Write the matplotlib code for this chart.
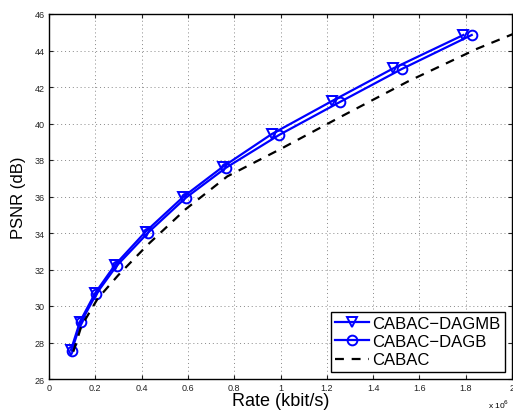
import matplotlib
matplotlib.use('Agg')
import matplotlib.pyplot as plt

plt.rcParams['font.family'] = ['Liberation Sans', 'DejaVu Sans']

# rates in units of 1e6 kbit/s
rate_dagmb = [0.095, 0.134, 0.200, 0.285, 0.418, 0.580, 0.750, 0.962, 1.221, 1.487, 1.790]
psnr_dagmb = [27.60, 29.15, 30.72, 32.25, 34.08, 35.98, 37.62, 39.42, 41.22, 43.02, 44.85]

rate_dagb = [0.098, 0.138, 0.205, 0.292, 0.428, 0.590, 0.765, 0.995, 1.257, 1.523, 1.826]
psnr_dagb = [27.55, 29.10, 30.68, 32.20, 34.02, 35.92, 37.58, 39.38, 41.18, 42.98, 44.85]

rate_cabac = [0.105, 0.14, 0.21, 0.30, 0.43, 0.59, 0.77, 1.0, 1.25, 1.55, 1.85, 2.1]
psnr_cabac = [27.5, 28.9, 30.4, 31.7, 33.4, 35.3, 37.1, 38.6, 40.3, 42.3, 44.1, 45.4]

xticks = [0, 0.2, 0.4, 0.6, 0.8, 1.0, 1.2, 1.4, 1.6, 1.8, 2.0]
xtick_labels = ['0', '0.2', '0.4', '0.6', '0.8', '1', '1.2', '1.4', '1.6', '1.8', '2']
yticks = [26, 28, 30, 32, 34, 36, 38, 40, 42, 44, 46]

fig = plt.figure(figsize=(5.13, 4.14), dpi=100)
ax = fig.add_axes([49 / 513, 1 - 380 / 414, 463 / 513, 365 / 414])

ax.plot(rate_dagmb, psnr_dagmb, color='#0000ff', lw=1.6, marker='v', ms=7,
        mfc='none', mew=1.4, label='CABAC\u2212DAGMB')
ax.plot(rate_dagb, psnr_dagb, color='#0000ff', lw=1.6, marker='o', ms=7,
        mfc='none', mew=1.4, label='CABAC\u2212DAGB')
ax.plot(rate_cabac, psnr_cabac, color='black', lw=1.6, ls=(0, (4, 3.5)),
        label='CABAC')

ax.set_xlim(0, 2)
ax.set_ylim(26, 46)
ax.set_xticks(xticks)
ax.set_xticklabels(xtick_labels)
ax.set_yticks(yticks)
ax.tick_params(direction='in', labelsize=6.5, top=True, right=True, length=3,
               colors='#222222', labelcolor='#222222', pad=3)
ax.grid(True, ls=(0, (1, 3)), color='#888888', lw=0.7)
for s in ax.spines.values():
    s.set_linewidth(1.0)
    s.set_color('black')

ax.set_xlabel('Rate (kbit/s)', fontsize=13, labelpad=0)
ax.set_ylabel('PSNR (dB)', fontsize=12, labelpad=6)
fig.text(488 / 513, 1 - 405 / 414, 'x 10$^6$', fontsize=6, ha='left', va='center')

leg = ax.legend(loc='lower right', fontsize=12, frameon=True, fancybox=False,
                edgecolor='black', framealpha=1, borderaxespad=0.45,
                handlelength=2.0, borderpad=0.25, labelspacing=0.2,
                handletextpad=0.2)
leg.get_frame().set_linewidth(1.0)

fig.savefig('out.png', dpi=100)
